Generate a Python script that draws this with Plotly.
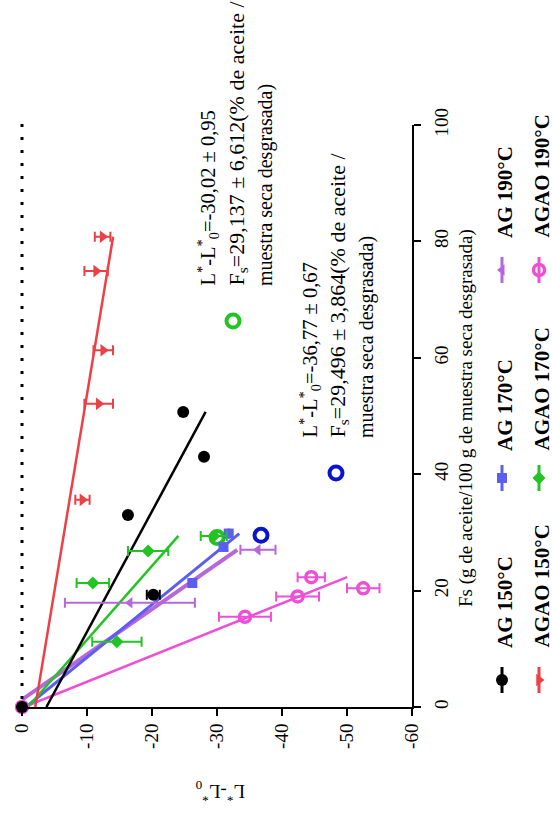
import numpy as np
import plotly.graph_objects as go

W, H = 552, 817

# ---------------- data: L*-L0* (x, horizontal) vs Fs (y, vertical) ----------------
fs_ag150 = [0, 19.3, 33.0, 43.0, 50.7]
l_ag150 = [0, -20.2, -16.3, -28.0, -24.8]
e_ag150 = [0, 1.0, 0, 0, 0]

fs_agao150 = [0, 35.6, 52.1, 61.3, 74.9, 80.8]
l_agao150 = [0, -9.3, -11.8, -12.5, -11.4, -12.4]
e_agao150 = [0, 1.1, 2.2, 1.5, 1.8, 1.2]

fs_ag170 = [0, 21.3, 27.5, 29.8]
l_ag170 = [0, -26.2, -31.0, -31.8]
e_ag170 = [0, 0, 0, 0]

fs_agao170 = [0, 11.2, 21.3, 26.8, 29.4]
l_agao170 = [0, -14.6, -10.9, -19.4, -29.5]
e_agao170 = [0, 3.8, 2.5, 3.1, 2.0]

fs_ag190 = [0, 17.9, 27.0]
l_ag190 = [0, -16.6, -36.3]
e_ag190 = [0, 10.0, 2.7]

fs_agao190 = [0, 15.5, 19.0, 22.3, 20.4]
l_agao190 = [0, -34.3, -42.4, -44.5, -52.5]
e_agao190 = [0, 4.0, 3.3, 2.1, 2.5]

# equilibrium values (open circles) : AGAO 170 and AG 170
eq_l = [-30.02, -36.77]
eq_fs = [29.137, 29.496]

x_ticks = [0, -10, -20, -30, -40, -50, -60]
x_ticktext = ["0", "-10", "-20", "-30", "-40", "-50", "-60"]
y_ticks = [0, 20, 40, 60, 80, 100]

names = ["AG 150°C", "AGAO 150°C", "AG 170°C", "AGAO 170°C", "AG 190°C", "AGAO 190°C"]

ann1 = ["L<sup>*</sup>-L<sup>*</sup><sub>0</sub>=-30,02 ± 0,95",
        "F<sub>s</sub>=29,137 ± 6,612(% de aceite /",
        "muestra seca desgrasada)"]
ann2 = ["L<sup>*</sup>-L<sup>*</sup><sub>0</sub>=-36,77 ± 0,67",
        "F<sub>s</sub>=29,496 ± 3,864(% de aceite /",
        "muestra seca desgrasada)"]
x_title = "L<sup>*</sup>-L<sup>*</sup><sub>0</sub>"
y_title = "Fs (g de aceite/100 g de muestra seca desgrasada)"

# ---------------- styles ----------------
C_BLACK = "#000000"
C_RED = "#ec4046"
C_BLUE = "#5b5ef0"
C_DBLUE = "#0a14c8"
C_GREEN = "#22c322"
C_PURPLE = "#b866d8"
C_MAG = "#ee4fd6"

series = [
    dict(fs=fs_ag150, l=l_ag150, e=e_ag150, color=C_BLACK, sym="circle", size=12, lw=2.5, mlw=0),
    dict(fs=fs_agao150, l=l_agao150, e=e_agao150, color=C_RED, sym="triangle-right", size=11, lw=2.5, mlw=0),
    dict(fs=fs_ag170, l=l_ag170, e=e_ag170, color=C_BLUE, sym="square", size=10, lw=3, mlw=0),
    dict(fs=fs_agao170, l=l_agao170, e=e_agao170, color=C_GREEN, sym="diamond", size=10, lw=2.5, mlw=0),
    dict(fs=fs_ag190, l=l_ag190, e=e_ag190, color=C_PURPLE, sym="triangle-left", size=10, lw=4, mlw=0),
    dict(fs=fs_agao190, l=l_agao190, e=e_agao190, color=C_MAG, sym="circle-open", size=11, lw=2.5, mlw=3.5),
]

# plot area in pixels
X0, X1 = 22, 412
Y0, Y1 = 125, 707


def px(x):
    return x / W


def py(y):
    return 1 - y / H


def fit_line(fs, l):
    k, b = np.polyfit(fs, l, 1)
    xs = np.array([0.0, max(fs)])
    return xs, k * xs + b


fig = go.Figure()

# regression lines (drawn beneath markers)
line_order = [5, 4, 2, 3, 1, 0]
for i in line_order:
    s = series[i]
    fx, fl = fit_line(s["fs"], s["l"])
    fig.add_trace(go.Scatter(x=fl, y=fx, mode="lines",
                             line=dict(color=s["color"], width=s["lw"]),
                             hoverinfo="skip", xaxis="x", yaxis="y"))

# equilibrium open circles
eq_colors = [C_GREEN, C_DBLUE]
for j in range(2):
    fig.add_trace(go.Scatter(x=[eq_l[j]], y=[eq_fs[j]], mode="markers",
                             marker=dict(symbol="circle-open", size=13, color=eq_colors[j],
                                         line=dict(width=4, color=eq_colors[j])),
                             cliponaxis=False, xaxis="x", yaxis="y"))

# data markers with horizontal error bars
for i in [5, 4, 2, 3, 1, 0]:
    s = series[i]
    mk = dict(symbol=s["sym"], size=s["size"], color=s["color"])
    if s["mlw"]:
        mk["line"] = dict(width=s["mlw"], color=s["color"])
    fig.add_trace(go.Scatter(x=s["l"], y=s["fs"], mode="markers", marker=mk,
                             error_x=dict(type="data", array=s["e"], visible=True,
                                          color=s["color"], thickness=2, width=5),
                             cliponaxis=False, xaxis="x", yaxis="y"))

# ---------------- manual (rotated) legend on pixel axes ----------------
leg_cols = [(502, 505), (539, 541)]       # (marker x, text x)
leg_rows = [(680, 650), (478, 453), (270, 240)]  # (marker y, text bottom y)
annotations = []
for i, s in enumerate(series):
    col = i % 2
    row = i // 2
    mx, tx = leg_cols[col]
    my, ty = leg_rows[row]
    fig.add_trace(go.Scatter(x=[mx, mx], y=[my - 13, my + 13], mode="lines",
                             line=dict(color=s["color"], width=3),
                             xaxis="x2", yaxis="y2", hoverinfo="skip"))
    mk = dict(symbol=s["sym"], size=s["size"], color=s["color"])
    if s["mlw"]:
        mk["line"] = dict(width=s["mlw"], color=s["color"])
    fig.add_trace(go.Scatter(x=[mx], y=[my], mode="markers", marker=mk,
                             xaxis="x2", yaxis="y2", hoverinfo="skip"))
    annotations.append(dict(xref="paper", yref="paper", x=px(tx), y=py(ty),
                            xanchor="center", yanchor="bottom", textangle=-90,
                            text="<b>" + names[i] + "</b>", showarrow=False,
                            font=dict(family="Liberation Serif", size=21, color="black")))

# key circles next to the result texts
key_pos = [(233, 321), (336, 473)]
for j in range(2):
    fig.add_trace(go.Scatter(x=[key_pos[j][0]], y=[key_pos[j][1]], mode="markers",
                             marker=dict(symbol="circle-open", size=13, color=eq_colors[j],
                                         line=dict(width=4, color=eq_colors[j])),
                             xaxis="x2", yaxis="y2", hoverinfo="skip"))

# result texts
blocks = [(ann1, [208, 237, 265], 288), (ann2, [310, 338, 366], 440)]
line_sizes = [20.5, 22, 20]
for texts, xs, yb in blocks:
    for k in range(3):
        annotations.append(dict(xref="paper", yref="paper", x=px(xs[k]), y=py(yb),
                                xanchor="center", yanchor="bottom", textangle=-90,
                                text=texts[k], showarrow=False,
                                font=dict(family="Liberation Serif", size=line_sizes[k], color="black")))

# axis titles
annotations.append(dict(xref="paper", yref="paper", x=px(466), y=py(418),
                        xanchor="center", yanchor="middle", textangle=-90,
                        text=y_title, showarrow=False,
                        font=dict(family="Liberation Serif", size=19, color="black")))
annotations.append(dict(xref="paper", yref="paper", x=px(220), y=py(792),
                        xanchor="center", yanchor="middle", textangle=180,
                        text=x_title, showarrow=False,
                        font=dict(family="Liberation Serif", size=19, color="black")))

shapes = [dict(type="line", xref="paper", yref="paper",
               x0=px(X0), x1=px(X0), y0=py(Y1 - 8), y1=py(118),
               line=dict(color="black", width=3, dash="3px,10px"))]

axis_common = dict(ticks="outside", ticklen=7, tickwidth=2, tickcolor="black",
                   showline=True, linewidth=2, linecolor="black", showgrid=False,
                   zeroline=False, automargin=False, tickangle=-90,
                   tickfont=dict(family="Liberation Serif", size=19, color="black"))

fig.update_layout(
    width=W, height=H, margin=dict(l=0, r=0, t=0, b=0, pad=0),
    paper_bgcolor="white", plot_bgcolor="rgba(0,0,0,0)",
    showlegend=False,
    font=dict(family="Liberation Serif", color="black"),
    xaxis=dict(domain=[px(X0), px(X1)], range=[0, -60], tickvals=x_ticks,
               ticktext=x_ticktext, anchor="y", **axis_common),
    yaxis=dict(domain=[py(Y1), py(Y0)], range=[0, 100], tickvals=y_ticks,
               side="right", anchor="x", ticklabelstandoff=4, **axis_common),
    xaxis2=dict(domain=[0, 1], range=[0, W], visible=False, anchor="y2", fixedrange=True),
    yaxis2=dict(domain=[0, 1], range=[H, 0], visible=False, anchor="x2", fixedrange=True),
    annotations=annotations,
    shapes=shapes,
)

fig.write_html("out.html")
